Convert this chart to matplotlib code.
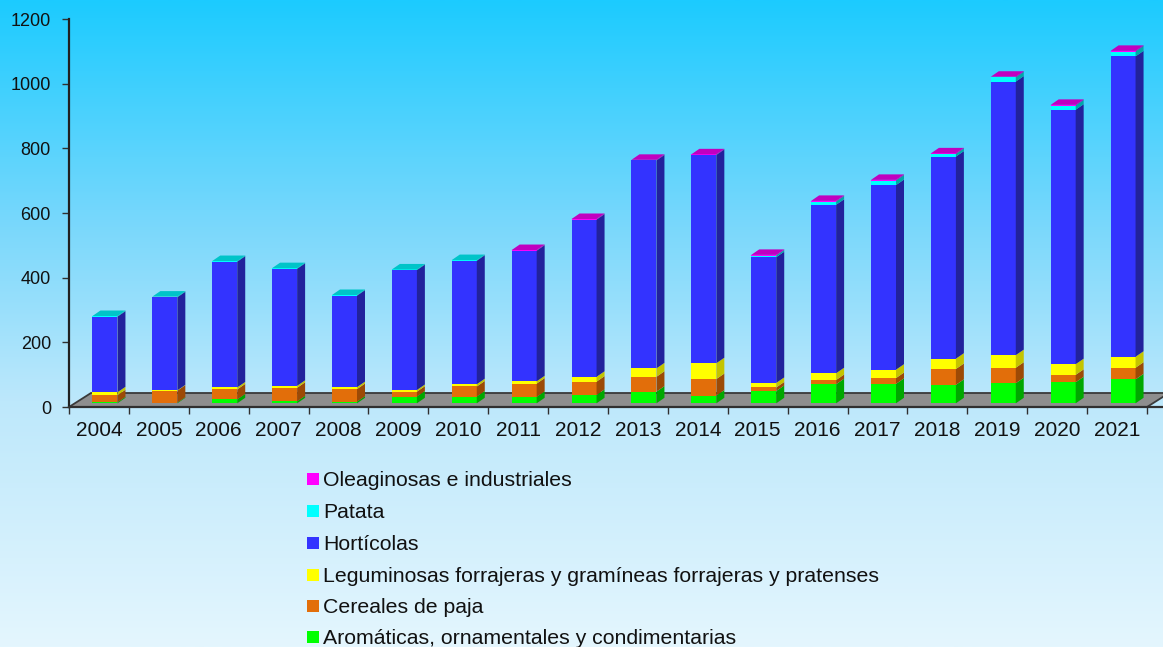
import numpy as np
import matplotlib
matplotlib.use("Agg")
import matplotlib.pyplot as plt
from matplotlib.patches import Polygon, Rectangle
from matplotlib.colors import LinearSegmentedColormap

plt.rcParams['font.family'] = ['Liberation Sans', 'DejaVu Sans']

# values (stack order: bottom -> top)
years = [str(y) for y in range(2004, 2022)]
aromaticas = [3, 2, 12, 6, 5, 21, 21, 20, 26, 36, 24, 38, 59, 60, 57, 62, 65, 74]
cereales = [22, 37, 31, 42, 39, 15, 31, 41, 41, 46, 51, 11, 13, 18, 49, 48, 23, 36]
leguminosas = [9, 1, 6, 6, 6, 5, 7, 7, 15, 26, 49, 14, 21, 26, 32, 39, 33, 34]
horticolas = [234, 288, 389, 362, 283, 371, 382, 404, 486, 643, 644, 389, 521, 571, 625, 846, 787, 929]
patata = [2, 2, 2, 2, 2, 2, 2, 0, 0, 0, 0, 5, 10, 14, 8, 13, 13, 15]
oleaginosas = [0, 0, 0, 0, 0, 0, 0, 2, 2, 2, 2, 2, 2, 2, 2, 2, 2, 2]

# name, values, front, side, top
series = [
    ("Aromáticas, ornamentales y condimentarias", aromaticas, "#00FF00", "#00A800", "#00D000"),
    ("Cereales de paja", cereales, "#E26E0A", "#9C4A06", "#C05A08"),
    ("Leguminosas forrajeras y gramíneas forrajeras y pratenses", leguminosas, "#FFFF00", "#C4C400", "#D8D800"),
    ("Hortícolas", horticolas, "#3333FF", "#22229C", "#2828C8"),
    ("Patata", patata, "#00FFFF", "#00A8A8", "#00C4C8"),
    ("Oleaginosas e industriales", oleaginosas, "#FF00FF", "#A000A0", "#C000C0"),
]

W, H = 1163, 647
fig = plt.figure(figsize=(W / 100, H / 100), dpi=100)

# background gradient
bg = fig.add_axes([0, 0, 1, 1], zorder=0)
grad_cmap = LinearSegmentedColormap.from_list(
    "bg", [(0.0, "#1CCBFF"), (0.35, "#7AD8FC"), (0.62, "#BDE8FB"), (1.0, "#E4F6FE")])
bg.imshow(np.linspace(0, 1, 256).reshape(-1, 1), aspect='auto', cmap=grad_cmap,
          extent=[0, 1, 0, 1], origin='upper')
bg.axis('off')

# plot area in pixels
x0, x1, ytop, ybot = 69, 1163, 19, 407
ax = fig.add_axes([x0 / W, (H - ybot) / H, (x1 - x0) / W, (ybot - ytop) / H], zorder=1)
ax.set_facecolor('none')

PXX = 1078 / 18.0   # px per category
PXY = (ybot - ytop) / 1200.0  # px per unit
ax.set_xlim(-0.5, -0.5 + (x1 - x0) / PXX)
ax.set_ylim(0, 1200)

def off(dx, dy):
    return dx / PXX, dy / PXY

FX, FY = off(6, 3.7)      # bar front plane offset from floor front
DX, DY = off(8, 5.5)      # bar depth
GX, GY = off(22, 14)      # floor depth
BW = 25 / PXX             # bar front width

# floor
n = len(years)
floor = Polygon([(-0.5, 0), (n - 0.5, 0), (n - 0.5 + GX, GY), (-0.5 + GX, GY)],
                closed=True, facecolor='#8E8E8E', edgecolor='#3A3A3A', lw=1.3,
                clip_on=False, zorder=2)
ax.add_patch(floor)

# 3D stacked bars
for i in range(n):
    xl = i + FX - BW / 2
    xr = i + FX + BW / 2
    cum = FY
    top_col = None
    for name, vals, front, side, top in series:
        v = vals[i]
        if v <= 0:
            continue
        ax.bar(xl, v, bottom=cum, width=BW, align='edge', color=front,
               edgecolor='none', zorder=3)
        ax.add_patch(Polygon([(xr, cum), (xr, cum + v), (xr + DX, cum + v + DY),
                              (xr + DX, cum + DY)], closed=True, facecolor=side,
                             edgecolor='none', zorder=3))
        cum += v
        top_col = top
    ax.add_patch(Polygon([(xl, cum), (xr, cum), (xr + DX, cum + DY), (xl + DX, cum + DY)],
                         closed=True, facecolor=top_col, edgecolor='none', zorder=3))

# axes styling
for s in ['top', 'right']:
    ax.spines[s].set_visible(False)
ax.spines['left'].set_color('#202020')
ax.spines['left'].set_linewidth(1.6)
ax.spines['bottom'].set_color('#303030')
ax.spines['bottom'].set_linewidth(1.6)
ax.spines['bottom'].set_zorder(4)

ax.set_yticks(range(0, 1201, 200))
ax.tick_params(axis='y', direction='out', length=5, width=1, color='#303030',
               labelsize=13, labelcolor='#111111', pad=8)
ax.set_xticks(range(n))
ax.set_xticklabels(years)
ax.tick_params(axis='x', which='major', length=0, labelsize=15,
               labelcolor='#111111', pad=10)
ax.set_xticks(np.arange(-0.5, n, 1), minor=True)
ax.tick_params(axis='x', which='minor', direction='out', length=5, width=1, color='#303030')

# legend (top to bottom)
row_y = [479, 511, 543, 575, 606, 637]
for (name, vals, front, side, top), yc in zip(series[::-1], row_y):
    fig.patches.append(Rectangle((307 / W, (H - yc - 6) / H), 12 / W, 12 / H,
                                 transform=fig.transFigure, facecolor=front,
                                 edgecolor='none', zorder=5))
    fig.text(323 / W, (H - yc - 7) / H, name, fontsize=15.3, color='#111111',
             ha='left', va='baseline', zorder=5)

fig.savefig('out.png', dpi=100)
